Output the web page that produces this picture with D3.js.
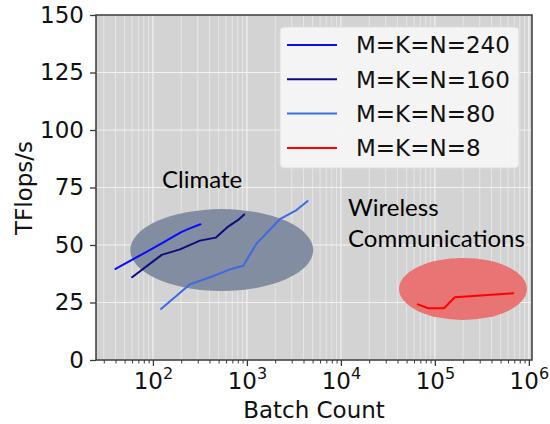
<!DOCTYPE html>
<html>
<head>
<meta charset="utf-8">
<script src="https://cdn.jsdelivr.net/npm/d3@7"></script>
<style>
  body { margin: 0; background: #fff; }
  text { font-family: "DejaVu Sans", sans-serif; }
</style>
</head>
<body>
<svg id="chart" width="550" height="424"></svg>
<script>
// DATA
const series = ["M=K=N=240", "M=K=N=160", "M=K=N=80", "M=K=N=8"];
const colors = ["#0a0aff", "#0c0c80", "#3a6ae6", "#ff0000"];

const batch240 = [40, 80, 128, 200, 240, 320];
const tf240 = [39.6, 46.4, 51, 55.6, 57, 59];

const batch160 = [60, 124, 194, 316, 465, 632, 807, 936];
const tf160 = [36, 45.7, 48.1, 51.9, 53.2, 58, 60.9, 63.3];

const batch80 = [122, 248, 440, 659, 914, 1268, 1432, 2244, 3377, 4427];
const tf80 = [22.2, 32.9, 36.5, 39.4, 41, 50.7, 52.9, 61.2, 65.2, 69.1];

const batch8 = [66000, 85000, 125000, 163000, 681000];
const tf8 = [24.2, 22.5, 22.5, 27.3, 29];

const yTicks = [0, 25, 50, 75, 100, 125, 150];
const xTicks = [100, 1000, 10000, 100000, 1000000];

// clusters: centre batch, centre tflops, half width in decades, half height in tflops
const regions = [
  { name: "Climate", cx: 540, cy: 47.8, rDec: 0.973, rTf: 17.8, fill: "#838da1" },
  { name: "Wireless Communications", cx: 199000, cy: 30.9, rDec: 0.68, rTf: 13.5, fill: "#e87474" }
];

const svg = d3.select("#chart");
const pl = 96, pr = 532, pt = 15, pb = 360;
const fs = 23; // main font size

const x = d3.scaleLog().domain([24.8, 1.08e6]).range([pl, pr]);
const y = d3.scaleLinear().domain([0, 150]).range([pb, pt]);

// background
svg.append("rect").attr("x", pl).attr("y", pt)
  .attr("width", pr - pl).attr("height", pb - pt)
  .attr("fill", "#d3d3d3");

// minor vertical grid
const minors = [];
for (let e = 1; e <= 6; e++) {
  for (let m = 2; m <= 9; m++) {
    const v = m * Math.pow(10, e);
    if (v > x.domain()[0] && v < x.domain()[1]) minors.push(v);
  }
}
svg.append("g").selectAll("line").data(minors).join("line")
  .attr("x1", d => x(d)).attr("x2", d => x(d))
  .attr("y1", pt).attr("y2", pb)
  .attr("stroke", "#e6e6e6").attr("stroke-width", 1);

// major grid
svg.append("g").selectAll("line").data(xTicks).join("line")
  .attr("x1", d => x(d)).attr("x2", d => x(d))
  .attr("y1", pt).attr("y2", pb)
  .attr("stroke", "#f2f2f2").attr("stroke-width", 1.2);
svg.append("g").selectAll("line").data(yTicks).join("line")
  .attr("x1", pl).attr("x2", pr)
  .attr("y1", d => y(d)).attr("y2", d => y(d))
  .attr("stroke", "#f2f2f2").attr("stroke-width", 1.2);

// ellipses
svg.append("g").selectAll("ellipse").data(regions).join("ellipse")
  .attr("cx", d => x(d.cx)).attr("cy", d => y(d.cy))
  .attr("rx", d => x(d.cx * Math.pow(10, d.rDec)) - x(d.cx))
  .attr("ry", d => y(0) - y(d.rTf))
  .attr("fill", d => d.fill);

// lines
const allData = [
  [batch240, tf240], [batch160, tf160], [batch80, tf80], [batch8, tf8]
];
const line = d3.line().x(d => x(d[0])).y(d => y(d[1]));
allData.forEach((s, i) => {
  const pts = s[0].map((b, j) => [b, s[1][j]]);
  svg.append("path").datum(pts)
    .attr("d", line)
    .attr("fill", "none")
    .attr("stroke", colors[i])
    .attr("stroke-width", 2)
    .attr("stroke-linejoin", "round")
    .attr("stroke-linecap", "round");
});

// annotations
svg.append("text").attr("x", 162).attr("y", 188)
  .style("font-family", "Lato, sans-serif").attr("font-size", 24)
  .text("Climate");
svg.append("text").attr("x", 348).attr("y", 216)
  .style("font-family", "Lato, sans-serif").attr("font-size", 24)
  .text("Wireless");
svg.append("text").attr("x", 348).attr("y", 247)
  .style("font-family", "Lato, sans-serif").attr("font-size", 24)
  .text("Communications");

// frame
svg.append("rect").attr("x", pl).attr("y", pt)
  .attr("width", pr - pl).attr("height", pb - pt)
  .attr("fill", "none").attr("stroke", "#3a3a3a").attr("stroke-width", 1.5);

// x axis
const xAxis = d3.axisBottom(x).tickValues(xTicks).tickSize(6).tickFormat("");
const gx = svg.append("g").attr("transform", `translate(0,${pb})`).call(xAxis);
gx.select(".domain").remove();
gx.selectAll(".tick line").attr("stroke", "#3a3a3a").attr("stroke-width", 1.3);
const xMinor = d3.axisBottom(x).tickValues(minors).tickSize(3.5).tickFormat("");
const gxm = svg.append("g").attr("transform", `translate(0,${pb})`).call(xMinor);
gxm.select(".domain").remove();
gxm.selectAll(".tick line").attr("stroke", "#3a3a3a").attr("stroke-width", 1);

gx.selectAll(".tick").append("text")
  .attr("y", 29).attr("fill", "#111").attr("font-size", fs)
  .attr("text-anchor", "middle")
  .each(function (d) {
    const t = d3.select(this);
    t.append("tspan").text("10");
    t.append("tspan").attr("dy", -10).attr("font-size", 16).text(Math.round(Math.log10(d)));
  });

// y axis
const yAxis = d3.axisLeft(y).tickValues(yTicks).tickSize(6).tickPadding(6);
const gy = svg.append("g").attr("transform", `translate(${pl},0)`).call(yAxis);
gy.select(".domain").remove();
gy.selectAll(".tick line").attr("stroke", "#3a3a3a").attr("stroke-width", 1.3);
gy.selectAll(".tick text").attr("font-size", fs).attr("fill", "#111")
  .attr("font-family", "DejaVu Sans, sans-serif");

// axis labels
svg.append("text").attr("x", 314).attr("y", 418)
  .attr("text-anchor", "middle").attr("font-size", fs).attr("fill", "#111")
  .text("Batch Count");
svg.append("text").attr("transform", "translate(32,188) rotate(-90)")
  .attr("text-anchor", "middle").attr("font-size", fs).attr("fill", "#111")
  .text("TFlops/s");

// legend
const lg = svg.append("g");
lg.append("rect").attr("x", 280).attr("y", 27).attr("width", 239).attr("height", 141)
  .attr("rx", 4).attr("fill", "#f5f5f5").attr("fill-opacity", 0.95)
  .attr("stroke", "#dcdcdc");
series.forEach((s, i) => {
  const yy = 45 + i * 34.3;
  lg.append("line").attr("x1", 287).attr("x2", 337).attr("y1", yy).attr("y2", yy)
    .attr("stroke", colors[i]).attr("stroke-width", 2);
  lg.append("text").attr("x", 356).attr("y", yy).attr("dy", "0.36em")
    .attr("font-size", fs).attr("fill", "#111").text(s);
});
</script>
</body>
</html>
